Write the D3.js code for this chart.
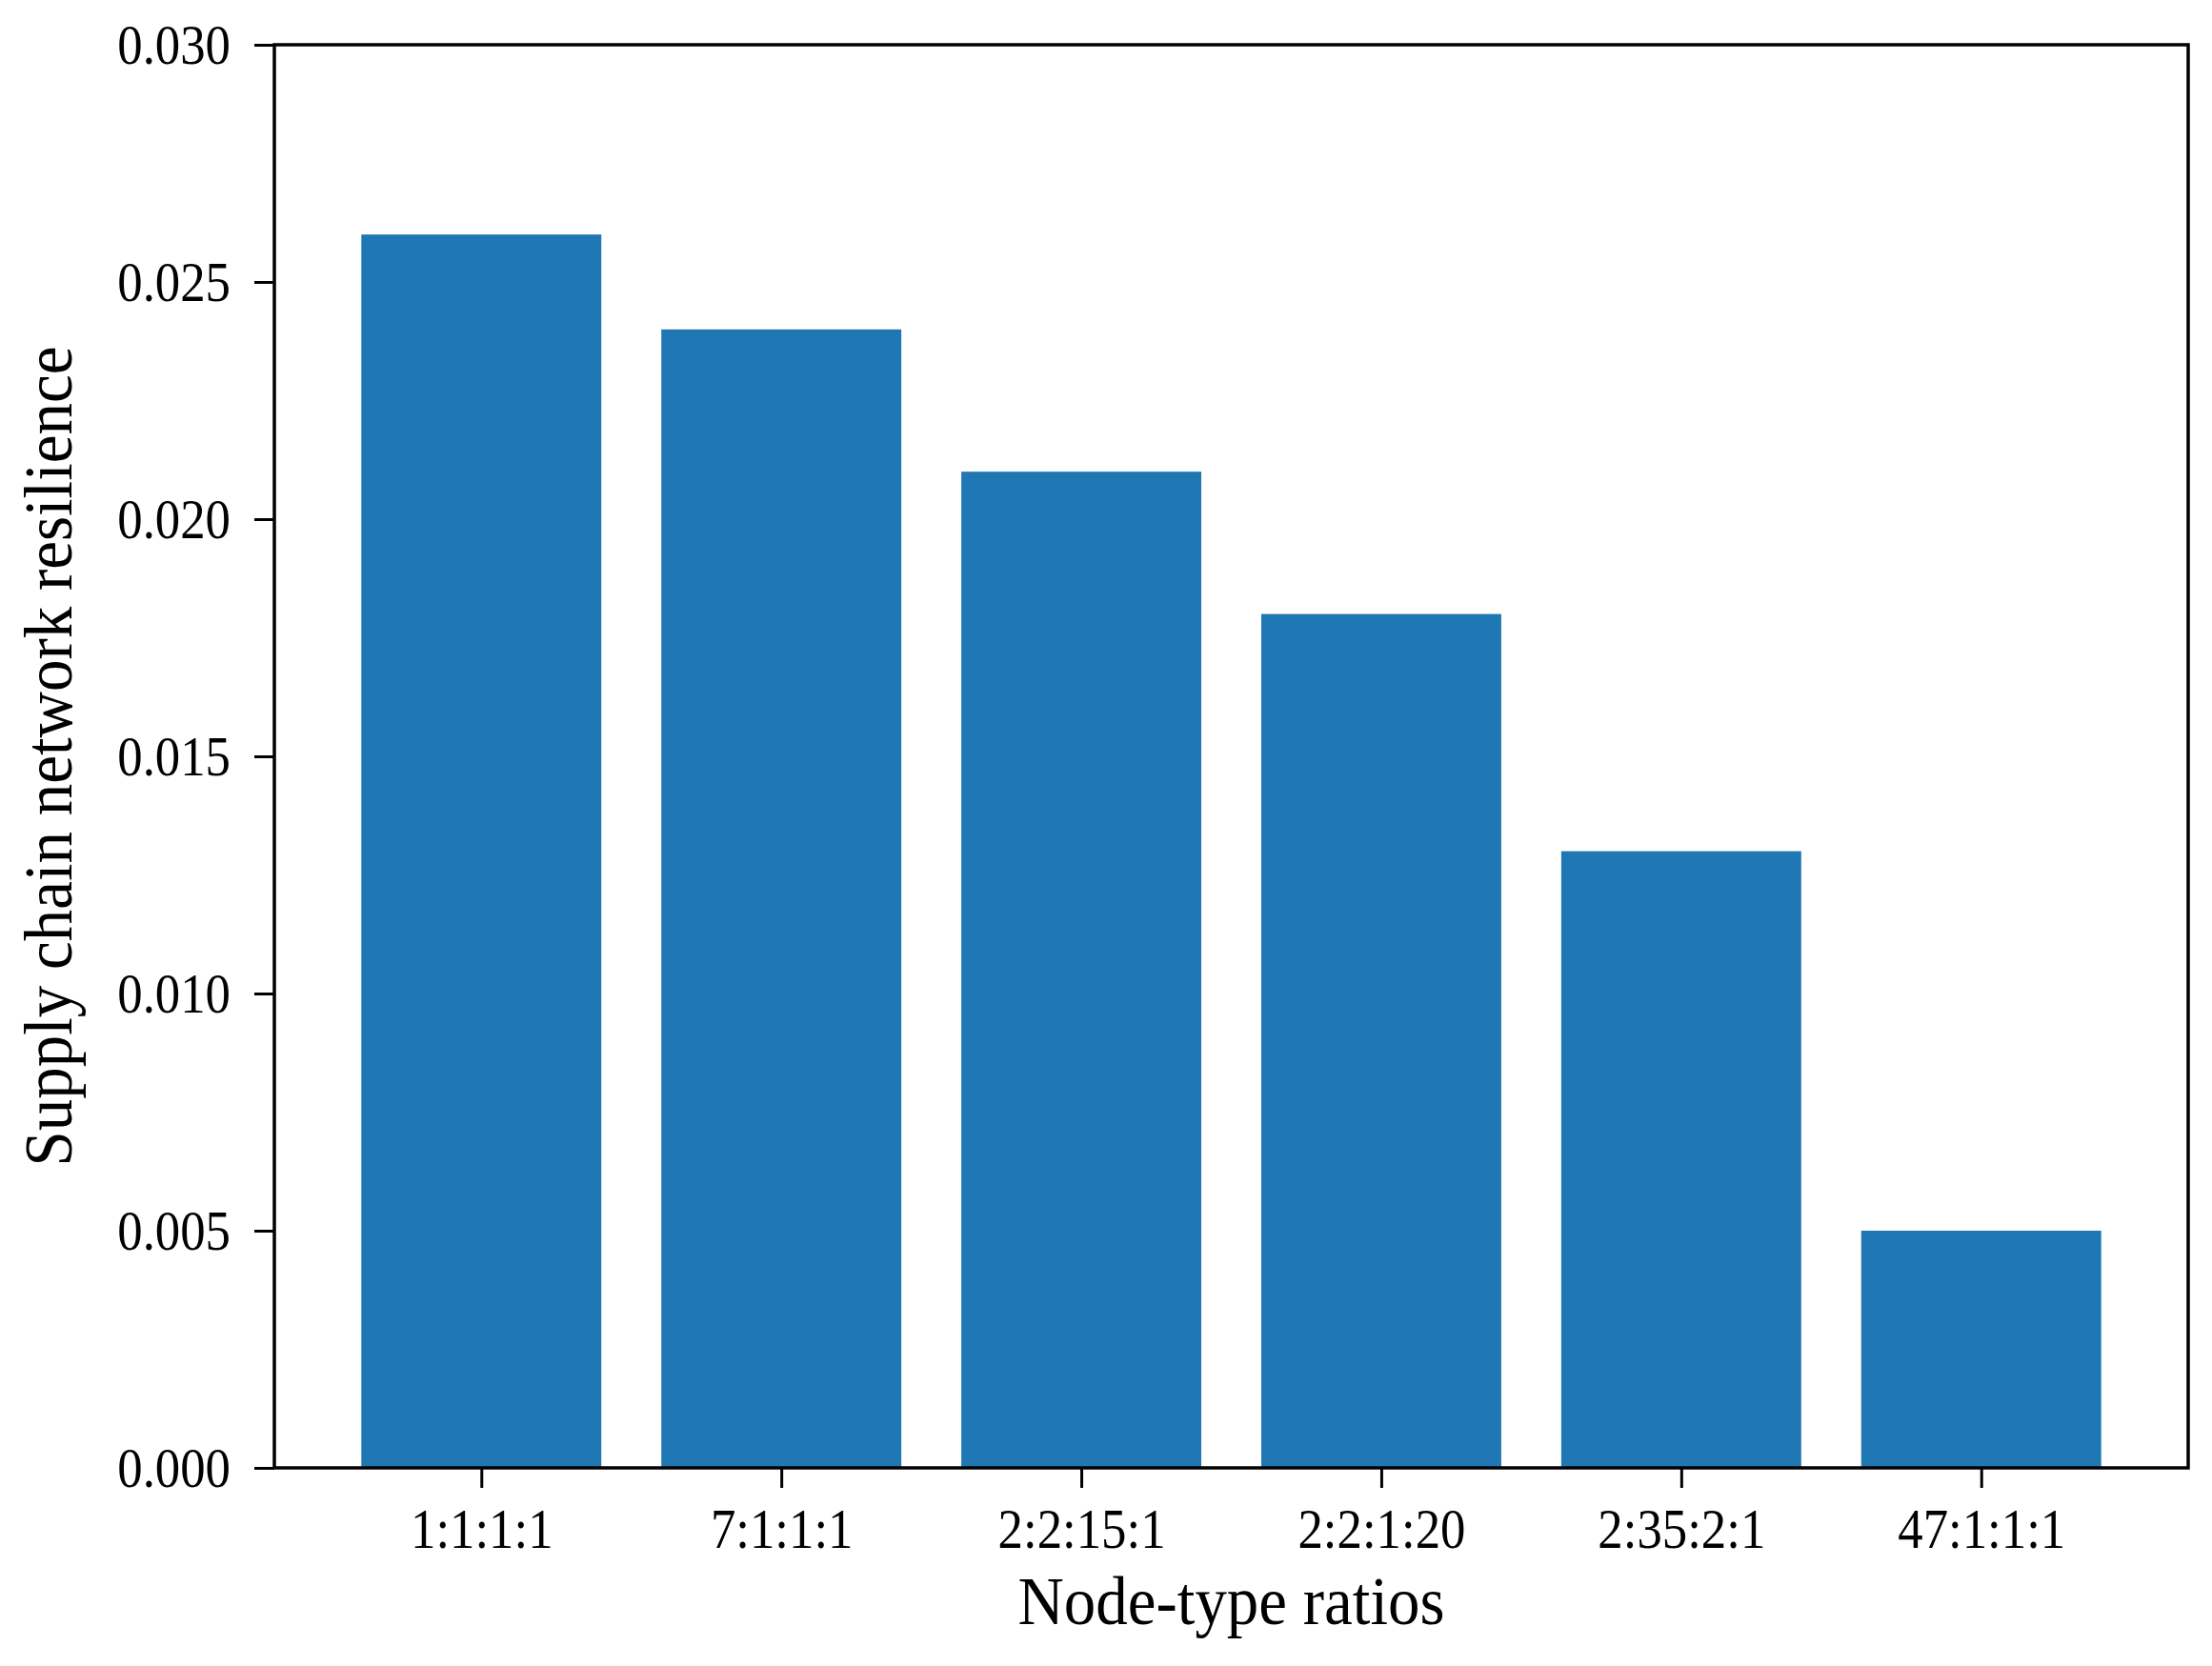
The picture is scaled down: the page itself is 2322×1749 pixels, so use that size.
<!DOCTYPE html>
<html>
<head>
<meta charset="utf-8">
<script src="https://cdn.jsdelivr.net/npm/d3@7"></script>
<style>
  body { margin: 0; background: #fff; }
  text { font-family: "Liberation Serif", "Times New Roman", serif; fill: #000; }
</style>
</head>
<body>
<div id="plot"></div>
<script>
// values
var ratios = ['1:1:1:1', '7:1:1:1', '2:2:15:1', '2:2:1:20', '2:35:2:1', '47:1:1:1'];
var resilience = [0.026, 0.024, 0.021, 0.018, 0.013, 0.005];
var yTicks = [0, 0.005, 0.010, 0.015, 0.020, 0.025, 0.030];

var W = 2322, H = 1749;
var margin = {t:47, r:25, b:208, l:288};
var width = W - margin.l - margin.r,
	height = H - margin.t - margin.b;

var svg = d3.select('#plot')
	.append('svg')
	.attr('width', W)
	.attr('height', H);

var plot = svg.append('g')
	.attr('transform', 'translate(' + margin.l + ',' + margin.t + ')');

// matplotlib style: bars at 0..n-1, width 0.8, 5% margins
var n = ratios.length;
var x = d3.scaleLinear()
	.domain([-0.4 - 0.05 * (n - 0.2), n - 1 + 0.4 + 0.05 * (n - 0.2)])
	.range([0, width]);
var y = d3.scaleLinear()
	.domain([0, 0.030])
	.range([height, 0]);

plot.selectAll('rect.bar')
	.data(resilience)
	.enter()
	.append('rect')
	.attr('class', 'bar')
	.attr('x', function (d, i) { return x(i - 0.4); })
	.attr('width', function (d, i) { return x(i + 0.4) - x(i - 0.4); })
	.attr('y', function (d) { return y(d); })
	.attr('height', function (d) { return y(0) - y(d); })
	.style('fill', '#1f77b4');

var sx = 0.88;

var yAxis = plot.append('g')
	.call(d3.axisLeft(y)
		.tickValues(yTicks)
		.tickFormat(d3.format('.3f'))
		.tickSize(21)
		.tickSizeOuter(0)
		.tickPadding(25));
yAxis.selectAll('text')
	.style('font-size', '60px')
	.attr('x', -46 / sx)
	.attr('transform', 'scale(' + sx + ',1)');

var xAxis = plot.append('g')
	.attr('transform', 'translate(0,' + height + ')')
	.call(d3.axisBottom(x)
		.tickValues(d3.range(n))
		.tickFormat(function (i) { return ratios[i]; })
		.tickSize(21)
		.tickSizeOuter(0)
		.tickPadding(20));
xAxis.selectAll('text')
	.style('font-size', '60px')
	.attr('transform', 'scale(' + sx + ',1)');

plot.selectAll('.tick line').style('stroke', '#000').style('stroke-width', '3px');
plot.selectAll('.domain').remove();

// frame
plot.append('rect')
	.attr('width', width)
	.attr('height', height)
	.style('fill', 'none')
	.style('stroke', '#000')
	.style('stroke-width', '3.5px');

// axis titles
svg.append('text')
	.attr('transform', 'translate(' + (margin.l + width / 2) + ',1705) scale(0.93,1)')
	.attr('text-anchor', 'middle')
	.style('font-size', '72px')
	.text('Node-type ratios');

svg.append('text')
	.attr('transform', 'translate(75,' + (margin.t + height / 2) + ') rotate(-90) scale(0.93,1)')
	.attr('text-anchor', 'middle')
	.style('font-size', '72px')
	.text('Supply chain network resilience');
</script>
</body>
</html>
